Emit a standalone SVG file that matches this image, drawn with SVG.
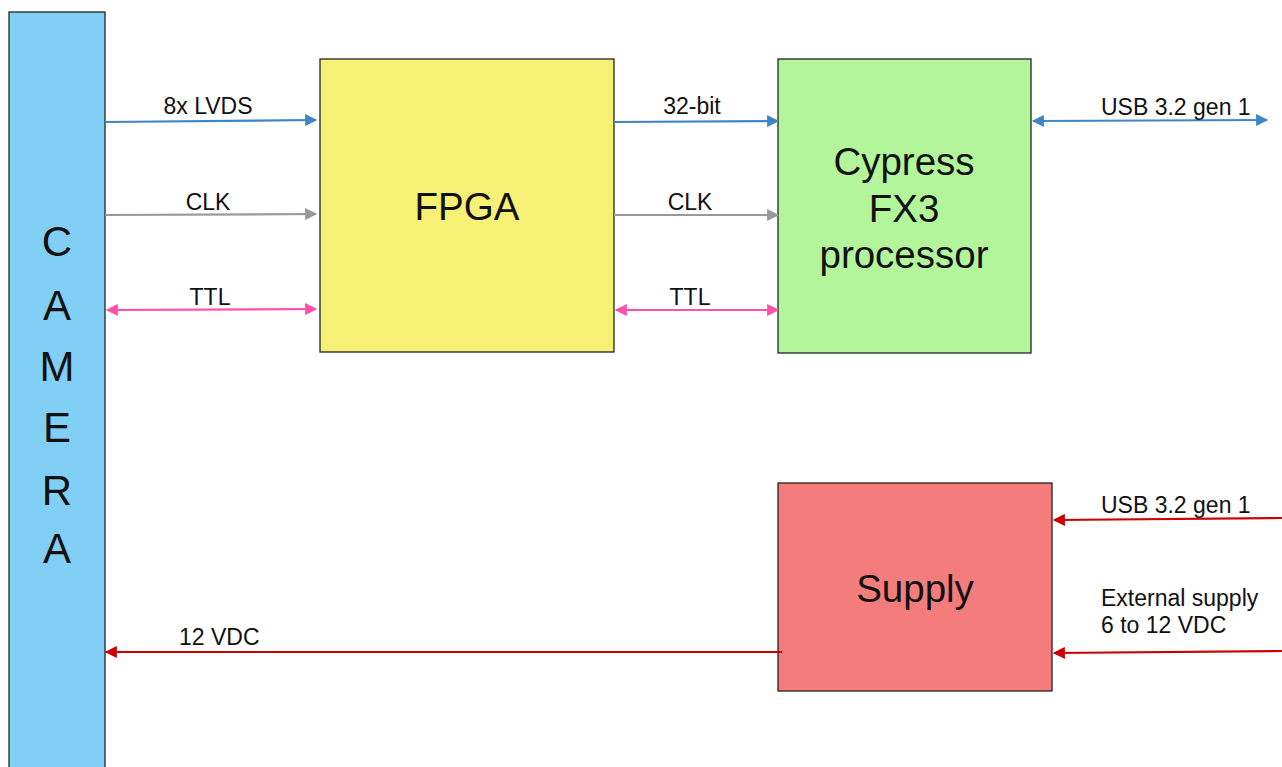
<svg xmlns="http://www.w3.org/2000/svg" width="1282" height="767" viewBox="0 0 1282 767">
<style>
.box{stroke:#222;stroke-width:1.3}
.lbl{font-family:"Liberation Sans",Arial,sans-serif;font-size:23px;fill:#111}
.big{font-family:"Liberation Sans",Arial,sans-serif;font-size:38.5px;fill:#111;text-anchor:middle}
.cam{font-family:"Liberation Sans",Arial,sans-serif;font-size:42px;fill:#111;text-anchor:middle}
.c{stroke-width:2.2;fill:none}
</style>
<defs>
<marker id="ab" viewBox="0 0 10 10" refX="9" refY="5" markerWidth="7" markerHeight="5.5" orient="auto-start-reverse" markerUnits="strokeWidth"><path d="M0,0 L10,5 L0,10 z" fill="#3d85c6"/></marker>
<marker id="ag" viewBox="0 0 10 10" refX="9" refY="5" markerWidth="7" markerHeight="5.5" orient="auto-start-reverse" markerUnits="strokeWidth"><path d="M0,0 L10,5 L0,10 z" fill="#999999"/></marker>
<marker id="ap" viewBox="0 0 10 10" refX="9" refY="5" markerWidth="7" markerHeight="5.5" orient="auto-start-reverse" markerUnits="strokeWidth"><path d="M0,0 L10,5 L0,10 z" fill="#ff4fa8"/></marker>
<marker id="ar" viewBox="0 0 10 10" refX="9" refY="5" markerWidth="7" markerHeight="5.5" orient="auto-start-reverse" markerUnits="strokeWidth"><path d="M0,0 L10,5 L0,10 z" fill="#cc0000"/></marker>
</defs>
<rect width="1282" height="767" fill="#fff"/>
<g id="camera">
<rect class="box" x="9" y="12" width="96" height="770" fill="#82cff5"/>
<text class="cam" x="57" y="256">C</text>
<text class="cam" x="57" y="320">A</text>
<text class="cam" x="57" y="381">M</text>
<text class="cam" x="57" y="442">E</text>
<text class="cam" x="57" y="505">R</text>
<text class="cam" x="57" y="563">A</text>
</g>
<g id="fpga">
<rect class="box" x="320" y="59" width="294" height="293" fill="#f6f075"/>
<text class="big" x="467" y="220">FPGA</text>
</g>
<g id="fx3">
<rect class="box" x="778" y="59" width="253" height="294" fill="#b3f59b"/>
<text class="big" x="904" y="175">Cypress</text>
<text class="big" x="904" y="222">FX3</text>
<text class="big" x="904" y="268">processor</text>
</g>
<g id="supply">
<rect class="box" x="778" y="483" width="274" height="208" fill="#f47c7c"/>
<text class="big" x="915" y="602">Supply</text>
</g>
<g id="connectors">
<line class="c" x1="105" y1="122" x2="316" y2="120" stroke="#3d85c6" marker-end="url(#ab)"/>
<line class="c" x1="105" y1="215" x2="316" y2="214" stroke="#999999" marker-end="url(#ag)"/>
<line class="c" x1="107" y1="310" x2="316" y2="309" stroke="#ff4fa8" marker-start="url(#ap)" marker-end="url(#ap)"/>
<line class="c" x1="614" y1="122" x2="778" y2="121" stroke="#3d85c6" marker-end="url(#ab)"/>
<line class="c" x1="614" y1="215" x2="778" y2="215" stroke="#999999" marker-end="url(#ag)"/>
<line class="c" x1="616" y1="310" x2="778" y2="310" stroke="#ff4fa8" marker-start="url(#ap)" marker-end="url(#ap)"/>
<line class="c" x1="1033" y1="121" x2="1267" y2="120" stroke="#3d85c6" marker-start="url(#ab)" marker-end="url(#ab)"/>
<line class="c" x1="1282" y1="518" x2="1054" y2="520" stroke="#cc0000" marker-end="url(#ar)"/>
<line class="c" x1="1282" y1="651" x2="1054" y2="653" stroke="#cc0000" marker-end="url(#ar)"/>
<line class="c" x1="782" y1="652" x2="106" y2="652" stroke="#cc0000" marker-end="url(#ar)"/>
<text class="lbl" x="208" y="114" text-anchor="middle">8x LVDS</text>
<text class="lbl" x="208" y="210" text-anchor="middle">CLK</text>
<text class="lbl" x="210" y="305" text-anchor="middle">TTL</text>
<text class="lbl" x="692" y="114" text-anchor="middle">32-bit</text>
<text class="lbl" x="690" y="210" text-anchor="middle">CLK</text>
<text class="lbl" x="690" y="305" text-anchor="middle">TTL</text>
<text class="lbl" x="1101" y="115">USB 3.2 gen 1</text>
<text class="lbl" x="1101" y="513">USB 3.2 gen 1</text>
<text class="lbl" x="1101" y="606">External supply</text>
<text class="lbl" x="1101" y="633">6 to 12 VDC</text>
<text class="lbl" x="179" y="645">12 VDC</text>
</g>
</svg>
